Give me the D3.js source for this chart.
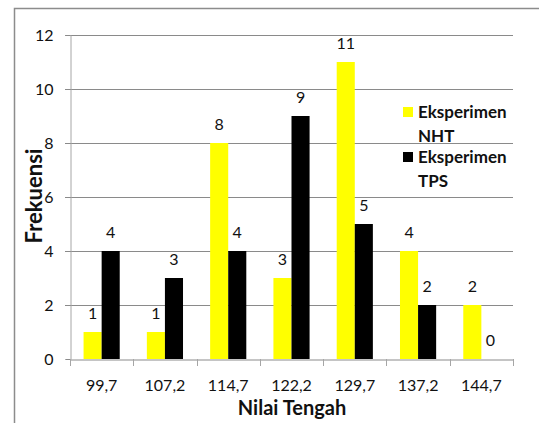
<!DOCTYPE html>
<html><head><meta charset="utf-8">
<script src="https://cdn.jsdelivr.net/npm/d3@7"></script>
<style>body{margin:0;background:#fff;} text{font-family:Lato,"Open Sans",sans-serif;}</style>
</head><body>
<script>
const categories = ["99,7","107,2","114,7","122,2","129,7","137,2","144,7"];
const seriesNames = ["Eksperimen NHT","Eksperimen TPS"];
const nht = [1,1,8,3,11,4,2];
const tps = [4,3,4,9,5,2,0];
const yTicks = [0,2,4,6,8,10,12];
const colors = ["#ffff00","#000000"];

(function(){
const W=539,H=423;
const svg=d3.select("body").append("svg").attr("width",W).attr("height",H);
svg.append("rect").attr("x",14.5).attr("y",8.5).attr("width",600).attr("height",500)
  .attr("fill","none").attr("stroke","#8c8c8c").attr("stroke-width",1.5);

const pL=70,pR=513,pT=35,pB=359;
const x=d3.scaleBand().domain(categories).range([pL,pR]).padding(0);
const y=d3.scaleLinear().domain([0,12]).range([pB,pT]);
const bw=x.bandwidth()/3.5;
const fs=16;

svg.append("g").selectAll("line").data(yTicks.filter(d=>d>0)).join("line")
  .attr("x1",pL-5).attr("x2",pR).attr("y1",d=>Math.round(y(d))+0.5).attr("y2",d=>Math.round(y(d))+0.5)
  .attr("stroke","#8a8a8a").attr("stroke-width",1);
const ya=svg.append("g").attr("transform",`translate(${pL+0.5},0)`)
  .call(d3.axisLeft(y).tickValues(yTicks).tickSize(5).tickPadding(12));
ya.select(".domain").attr("stroke","#a6a6a6");
ya.selectAll(".tick line").attr("stroke","#8a8a8a");
ya.selectAll("text").attr("font-size",fs).attr("fill","#111").style("font-family","Lato");
const xa=svg.append("g").attr("transform",`translate(0,${pB+0.5})`)
  .call(d3.axisBottom(x).tickSize(0).tickPadding(20));
xa.select(".domain").attr("stroke","#8a8a8a");
xa.selectAll("text").attr("font-size",fs).attr("fill","#111").style("font-family","Lato");
svg.append("g").selectAll("line").data(categories.concat(["end"])).join("line")
  .attr("x1",(d,i)=>Math.round(pL+i*x.step())+0.5).attr("x2",(d,i)=>Math.round(pL+i*x.step())+0.5)
  .attr("y1",pB).attr("y2",pB+7).attr("stroke","#a6a6a6");

const series=[nht,tps];
series.forEach((vals,si)=>{
  const g=svg.append("g");
  const cx=(c)=>x(c)+x.bandwidth()/2-bw+si*bw;
  g.selectAll("rect").data(vals).join("rect")
    .attr("x",(d,i)=>cx(categories[i])).attr("width",bw)
    .attr("y",d=>y(d)).attr("height",d=>pB-y(d)).attr("fill",colors[si]);
  g.selectAll("text").data(vals).join("text")
    .attr("x",(d,i)=>cx(categories[i])+bw/2).attr("y",d=>y(d)-13)
    .attr("text-anchor","middle").attr("font-size",fs).attr("fill","#111").text(d=>d);
});

svg.append("text").attr("x",292).attr("y",415).attr("text-anchor","middle")
  .attr("font-size",20).attr("font-weight","bold").attr("fill","#111").text("Nilai Tengah");
svg.append("text").attr("transform","translate(42,196) rotate(-90)").attr("text-anchor","middle")
  .attr("font-size",22).attr("font-weight","bold").attr("fill","#111").text("Frekuensi");

const leg=[{y:107,l1:"Eksperimen",l2:"NHT"},{y:152,l1:"Eksperimen",l2:"TPS"}];
leg.forEach((d,i)=>{
  svg.append("rect").attr("x",403).attr("y",d.y).attr("width",10).attr("height",10).attr("fill",colors[i]);
  const t=svg.append("text").attr("x",418).attr("y",d.y+11).attr("font-size",17).attr("font-weight","bold").attr("fill","#111");
  t.append("tspan").attr("x",418).text(d.l1);
  t.append("tspan").attr("x",418).attr("dy",24).text(d.l2);
});
})();
</script>
</body></html>
